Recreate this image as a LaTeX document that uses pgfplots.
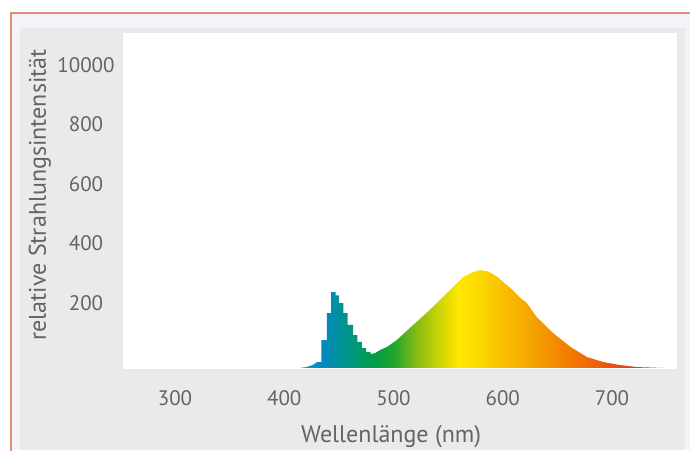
\documentclass[border=0pt]{standalone}
\usepackage{pgfplots}
\pgfplotsset{compat=1.18}
\usepackage{fontspec}
\setmainfont{PT Sans}

\definecolor{framecol}{RGB}{228,140,122}
\definecolor{stripcol}{RGB}{244,243,247}
\definecolor{panelcol}{RGB}{234,234,234}
\definecolor{txtcol}{RGB}{100,100,100}

% spectrum colours, 25bp = 414 nm ... 75bp = 747 nm
\definecolor{s0}{RGB}{40,150,215}
\definecolor{s1}{RGB}{0,138,190}
\definecolor{s2}{RGB}{0,145,155}
\definecolor{s3}{RGB}{0,152,118}
\definecolor{s4}{RGB}{0,156,75}
\definecolor{s5}{RGB}{30,165,45}
\definecolor{s6}{RGB}{130,185,20}
\definecolor{s7}{RGB}{200,210,5}
\definecolor{s8}{RGB}{255,230,0}
\definecolor{s9}{RGB}{253,220,0}
\definecolor{s10}{RGB}{250,195,0}
\definecolor{s11}{RGB}{245,165,0}
\definecolor{s12}{RGB}{242,125,0}
\definecolor{s13}{RGB}{235,80,15}
\definecolor{s14}{RGB}{225,35,35}
\pgfdeclarehorizontalshading{spectrum}{100bp}{%
  color(0bp)=(s0); color(25bp)=(s0); color(28.2bp)=(s1); color(30.4bp)=(s2);
  color(32.7bp)=(s3); color(34.9bp)=(s4); color(37.9bp)=(s5); color(40.9bp)=(s6);
  color(43.9bp)=(s7); color(46.9bp)=(s8); color(49.2bp)=(s9); color(52.2bp)=(s10);
  color(56.7bp)=(s11); color(61.9bp)=(s12); color(67.9bp)=(s13); color(75bp)=(s14);
  color(100bp)=(s14)}

\begin{document}
\begin{tikzpicture}
\path[use as bounding box, fill=white] (0,0) rectangle (345pt,225pt);
\fill[stripcol] (5.5pt,0) rectangle (345pt,218.5pt);
\fill[panelcol] (10pt,0) rectangle (342.5pt,211pt);
\draw[framecol, line width=0.8pt] (5.5pt,-1pt) -- (5.5pt,218.5pt) -- (346pt,218.5pt);

\begin{axis}[
    at={(61.5pt,40.5pt)}, anchor=south west,
    scale only axis, width=277pt, height=168pt,
    xmin=252.4, xmax=759.5, ymin=-3.4, ymax=1129,
    axis background/.style={fill=white},
    axis line style={draw=none},
    major tick length=0pt,
    /pgf/number format/assume math mode=true,
    xtick={300,400,500,600,700},
    ytick={200,400,600,800,1000},
    yticklabels={200,400,600,800,10000},
    tick label style={font=\fontsize{10.5}{12}\selectfont, text=txtcol},
    xticklabel style={anchor=center, yshift=-14.5pt},
    yticklabel style={anchor=center, xshift=-18.5pt, yshift=3pt},
    label style={font=\fontsize{12}{14}\selectfont, text=txtcol},
    xlabel={Wellenlänge (nm)},
    ylabel={relative Strahlungsintensität},
    xlabel style={at={(axis description cs:0.484,-0.2)}, anchor=center},
    ylabel style={at={(axis description cs:-0.15,0.518)}, anchor=center},
]
\addplot[draw=none, shade, shading=spectrum] coordinates {
  (414,0) (420,3) (426,10) (430,20) (434,20) (434,94) (439,94) (439,185)
  (443,185) (443,256) (447,256) (447,245) (450,245) (450,219) (454,219)
  (454,185) (458,185) (458,145) (463,145) (463,111) (467,111) (467,88)
  (471,88) (471,67) (475,67) (475,54) (479,54) (479,47) (483,50) (488,61)
  (494,71) (503,94) (518,145) (533,195) (549,253) (564,307) (572,322)
  (579,330) (587,325) (595,307) (602,285) (609,263) (616,236) (622,219)
  (631,172) (646,118) (662,71) (677,37) (692,20) (707,10) (723,3) (747,0)
} \closedcycle;
\end{axis}
\end{tikzpicture}
\end{document}
